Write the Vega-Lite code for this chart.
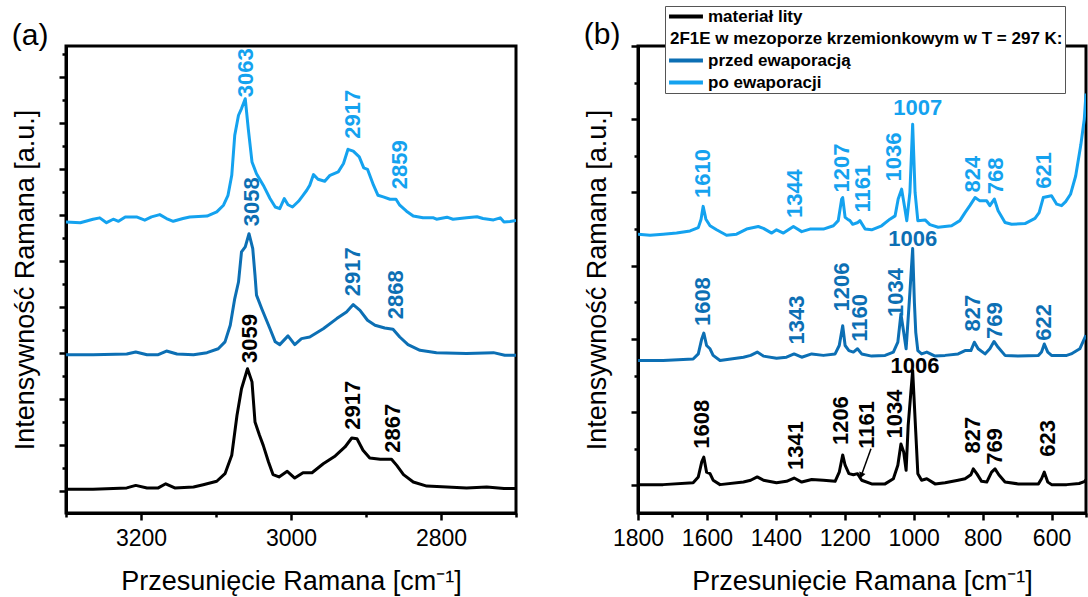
{
  "$schema": "https://vega.github.io/schema/vega-lite/v6.json",
  "background": "white",
  "padding": {"left": 10, "top": 4, "right": 0, "bottom": 0},
  "bounds": "flush",
  "spacing": 122,
  "resolve": {"scale": {"color": "independent", "fill": "independent"}, "legend": {"color": "independent", "fill": "independent"}},
  "config": {
    "font": "Liberation Sans",
    "view": {"stroke": "black", "strokeWidth": 3},
    "axis": {"domainColor": "black", "domainWidth": 3, "tickColor": "black", "tickWidth": 2.5, "labelFont": "Liberation Sans", "labelFontSize": 23, "labelColor": "black", "labelPadding": 7, "labelOverlap": false, "labelFlush": false, "titleFont": "Liberation Sans", "titleFontSize": 27, "titleFontWeight": "normal", "titleColor": "black", "grid": false},
    "axisX": {"titlePadding": 18},
    "axisY": {"titlePadding": 18},
    "title": {"font": "Liberation Sans", "fontSize": 30, "fontWeight": "normal", "color": "black", "anchor": "start"}
  },
  "datasets": {
    "a": [
      {"s": "po ewaporacji", "x": 3300, "y": 11.68}, {"s": "po ewaporacji", "x": 3281, "y": 11.65}, {"s": "po ewaporacji", "x": 3264, "y": 11.8}, {"s": "po ewaporacji", "x": 3255, "y": 11.86}, {"s": "po ewaporacji", "x": 3246, "y": 11.65}, {"s": "po ewaporacji", "x": 3237, "y": 11.8}, {"s": "po ewaporacji", "x": 3230, "y": 11.71}, {"s": "po ewaporacji", "x": 3221, "y": 11.9}, {"s": "po ewaporacji", "x": 3206, "y": 11.9}, {"s": "po ewaporacji", "x": 3195, "y": 11.76}, {"s": "po ewaporacji", "x": 3186, "y": 11.9}, {"s": "po ewaporacji", "x": 3175, "y": 12.0}, {"s": "po ewaporacji", "x": 3166, "y": 11.83}, {"s": "po ewaporacji", "x": 3157, "y": 11.71}, {"s": "po ewaporacji", "x": 3144, "y": 11.83}, {"s": "po ewaporacji", "x": 3135, "y": 11.9}, {"s": "po ewaporacji", "x": 3112, "y": 11.94}, {"s": "po ewaporacji", "x": 3099, "y": 12.12}, {"s": "po ewaporacji", "x": 3090, "y": 12.41}, {"s": "po ewaporacji", "x": 3084, "y": 12.84}, {"s": "po ewaporacji", "x": 3079, "y": 13.71}, {"s": "po ewaporacji", "x": 3075, "y": 15.45}, {"s": "po ewaporacji", "x": 3070, "y": 16.32}, {"s": "po ewaporacji", "x": 3066, "y": 16.61}, {"s": "po ewaporacji", "x": 3061, "y": 17.04}, {"s": "po ewaporacji", "x": 3057, "y": 15.74}, {"s": "po ewaporacji", "x": 3052, "y": 14.29}, {"s": "po ewaporacji", "x": 3046, "y": 13.78}, {"s": "po ewaporacji", "x": 3037, "y": 13.28}, {"s": "po ewaporacji", "x": 3028, "y": 12.7}, {"s": "po ewaporacji", "x": 3021, "y": 12.33}, {"s": "po ewaporacji", "x": 3015, "y": 12.26}, {"s": "po ewaporacji", "x": 3009, "y": 12.7}, {"s": "po ewaporacji", "x": 3004, "y": 12.43}, {"s": "po ewaporacji", "x": 2998, "y": 12.33}, {"s": "po ewaporacji", "x": 2990, "y": 12.58}, {"s": "po ewaporacji", "x": 2984, "y": 12.84}, {"s": "po ewaporacji", "x": 2979, "y": 13.06}, {"s": "po ewaporacji", "x": 2975, "y": 13.28}, {"s": "po ewaporacji", "x": 2970, "y": 13.74}, {"s": "po ewaporacji", "x": 2964, "y": 13.54}, {"s": "po ewaporacji", "x": 2955, "y": 13.45}, {"s": "po ewaporacji", "x": 2948, "y": 13.71}, {"s": "po ewaporacji", "x": 2937, "y": 13.86}, {"s": "po ewaporacji", "x": 2930, "y": 14.22}, {"s": "po ewaporacji", "x": 2924, "y": 14.84}, {"s": "po ewaporacji", "x": 2917, "y": 14.76}, {"s": "po ewaporacji", "x": 2909, "y": 14.51}, {"s": "po ewaporacji", "x": 2903, "y": 14.03}, {"s": "po ewaporacji", "x": 2898, "y": 13.97}, {"s": "po ewaporacji", "x": 2890, "y": 13.28}, {"s": "po ewaporacji", "x": 2884, "y": 12.84}, {"s": "po ewaporacji", "x": 2877, "y": 12.77}, {"s": "po ewaporacji", "x": 2868, "y": 12.67}, {"s": "po ewaporacji", "x": 2860, "y": 12.67}, {"s": "po ewaporacji", "x": 2855, "y": 12.41}, {"s": "po ewaporacji", "x": 2846, "y": 12.15}, {"s": "po ewaporacji", "x": 2837, "y": 11.94}, {"s": "po ewaporacji", "x": 2824, "y": 11.86}, {"s": "po ewaporacji", "x": 2810, "y": 11.86}, {"s": "po ewaporacji", "x": 2806, "y": 11.8}, {"s": "po ewaporacji", "x": 2792, "y": 11.89}, {"s": "po ewaporacji", "x": 2784, "y": 11.8}, {"s": "po ewaporacji", "x": 2766, "y": 11.86}, {"s": "po ewaporacji", "x": 2752, "y": 11.91}, {"s": "po ewaporacji", "x": 2744, "y": 11.83}, {"s": "po ewaporacji", "x": 2730, "y": 11.77}, {"s": "po ewaporacji", "x": 2721, "y": 11.86}, {"s": "po ewaporacji", "x": 2716, "y": 11.68}, {"s": "po ewaporacji", "x": 2708, "y": 11.7}, {"s": "po ewaporacji", "x": 2700, "y": 11.75},
      {"s": "przed ewaporacją", "x": 3300, "y": 5.91}, {"s": "przed ewaporacją", "x": 3264, "y": 5.91}, {"s": "przed ewaporacją", "x": 3219, "y": 5.94}, {"s": "przed ewaporacją", "x": 3207, "y": 6.03}, {"s": "przed ewaporacją", "x": 3192, "y": 5.91}, {"s": "przed ewaporacją", "x": 3177, "y": 5.91}, {"s": "przed ewaporacją", "x": 3166, "y": 6.07}, {"s": "przed ewaporacją", "x": 3152, "y": 5.94}, {"s": "przed ewaporacją", "x": 3130, "y": 5.91}, {"s": "przed ewaporacją", "x": 3112, "y": 6.0}, {"s": "przed ewaporacją", "x": 3097, "y": 6.17}, {"s": "przed ewaporacją", "x": 3088, "y": 6.47}, {"s": "przed ewaporacją", "x": 3081, "y": 7.19}, {"s": "przed ewaporacją", "x": 3075, "y": 8.35}, {"s": "przed ewaporacją", "x": 3070, "y": 9.07}, {"s": "przed ewaporacją", "x": 3066, "y": 10.38}, {"s": "przed ewaporacją", "x": 3061, "y": 10.6}, {"s": "przed ewaporacją", "x": 3056, "y": 11.17}, {"s": "przed ewaporacją", "x": 3051, "y": 10.52}, {"s": "przed ewaporacją", "x": 3048, "y": 9.37}, {"s": "przed ewaporacją", "x": 3046, "y": 8.5}, {"s": "przed ewaporacją", "x": 3039, "y": 7.91}, {"s": "przed ewaporacją", "x": 3028, "y": 7.04}, {"s": "przed ewaporacją", "x": 3021, "y": 6.47}, {"s": "przed ewaporacją", "x": 3015, "y": 6.35}, {"s": "przed ewaporacją", "x": 3004, "y": 6.73}, {"s": "przed ewaporacją", "x": 2995, "y": 6.35}, {"s": "przed ewaporacją", "x": 2986, "y": 6.61}, {"s": "przed ewaporacją", "x": 2975, "y": 6.68}, {"s": "przed ewaporacją", "x": 2957, "y": 7.04}, {"s": "przed ewaporacją", "x": 2939, "y": 7.48}, {"s": "przed ewaporacją", "x": 2926, "y": 7.77}, {"s": "przed ewaporacją", "x": 2917, "y": 8.09}, {"s": "przed ewaporacją", "x": 2908, "y": 7.84}, {"s": "przed ewaporacją", "x": 2898, "y": 7.41}, {"s": "przed ewaporacją", "x": 2888, "y": 7.19}, {"s": "przed ewaporacją", "x": 2875, "y": 7.07}, {"s": "przed ewaporacją", "x": 2864, "y": 7.02}, {"s": "przed ewaporacją", "x": 2855, "y": 6.68}, {"s": "przed ewaporacją", "x": 2844, "y": 6.35}, {"s": "przed ewaporacją", "x": 2828, "y": 6.1}, {"s": "przed ewaporacją", "x": 2806, "y": 6.0}, {"s": "przed ewaporacją", "x": 2766, "y": 5.96}, {"s": "przed ewaporacją", "x": 2730, "y": 6.0}, {"s": "przed ewaporacją", "x": 2715, "y": 5.89}, {"s": "przed ewaporacją", "x": 2700, "y": 5.89},
      {"s": "materiał lity", "x": 3300, "y": 0.06}, {"s": "materiał lity", "x": 3264, "y": 0.06}, {"s": "materiał lity", "x": 3219, "y": 0.12}, {"s": "materiał lity", "x": 3207, "y": 0.23}, {"s": "materiał lity", "x": 3192, "y": 0.12}, {"s": "materiał lity", "x": 3177, "y": 0.12}, {"s": "materiał lity", "x": 3167, "y": 0.3}, {"s": "materiał lity", "x": 3155, "y": 0.12}, {"s": "materiał lity", "x": 3130, "y": 0.16}, {"s": "materiał lity", "x": 3117, "y": 0.26}, {"s": "materiał lity", "x": 3099, "y": 0.41}, {"s": "materiał lity", "x": 3088, "y": 0.74}, {"s": "materiał lity", "x": 3079, "y": 1.54}, {"s": "materiał lity", "x": 3072, "y": 3.28}, {"s": "materiał lity", "x": 3066, "y": 4.43}, {"s": "materiał lity", "x": 3058, "y": 5.3}, {"s": "materiał lity", "x": 3052, "y": 4.73}, {"s": "materiał lity", "x": 3048, "y": 2.99}, {"s": "materiał lity", "x": 3042, "y": 2.41}, {"s": "materiał lity", "x": 3037, "y": 1.97}, {"s": "materiał lity", "x": 3030, "y": 1.25}, {"s": "materiał lity", "x": 3024, "y": 0.7}, {"s": "materiał lity", "x": 3016, "y": 0.6}, {"s": "materiał lity", "x": 3005, "y": 0.84}, {"s": "materiał lity", "x": 2995, "y": 0.55}, {"s": "materiał lity", "x": 2984, "y": 0.78}, {"s": "materiał lity", "x": 2972, "y": 0.78}, {"s": "materiał lity", "x": 2957, "y": 1.17}, {"s": "materiał lity", "x": 2941, "y": 1.51}, {"s": "materiał lity", "x": 2928, "y": 1.9}, {"s": "materiał lity", "x": 2919, "y": 2.29}, {"s": "materiał lity", "x": 2912, "y": 2.26}, {"s": "materiał lity", "x": 2904, "y": 1.76}, {"s": "materiał lity", "x": 2895, "y": 1.42}, {"s": "materiał lity", "x": 2881, "y": 1.37}, {"s": "materiał lity", "x": 2866, "y": 1.37}, {"s": "materiał lity", "x": 2859, "y": 1.1}, {"s": "materiał lity", "x": 2850, "y": 0.7}, {"s": "materiał lity", "x": 2837, "y": 0.38}, {"s": "materiał lity", "x": 2819, "y": 0.2}, {"s": "materiał lity", "x": 2792, "y": 0.16}, {"s": "materiał lity", "x": 2766, "y": 0.12}, {"s": "materiał lity", "x": 2739, "y": 0.16}, {"s": "materiał lity", "x": 2716, "y": 0.09}, {"s": "materiał lity", "x": 2700, "y": 0.09}
    ],
    "b": [
      {"s": "po ewaporacji", "x": 1800, "y": 6.86}, {"s": "po ewaporacji", "x": 1765, "y": 6.83}, {"s": "po ewaporacji", "x": 1727, "y": 6.86}, {"s": "po ewaporacji", "x": 1688, "y": 6.89}, {"s": "po ewaporacji", "x": 1649, "y": 6.95}, {"s": "po ewaporacji", "x": 1625, "y": 7.04}, {"s": "po ewaporacji", "x": 1617, "y": 7.27}, {"s": "po ewaporacji", "x": 1611, "y": 7.62}, {"s": "po ewaporacji", "x": 1603, "y": 7.27}, {"s": "po ewaporacji", "x": 1591, "y": 7.09}, {"s": "po ewaporacji", "x": 1572, "y": 6.98}, {"s": "po ewaporacji", "x": 1543, "y": 6.83}, {"s": "po ewaporacji", "x": 1514, "y": 6.86}, {"s": "po ewaporacji", "x": 1485, "y": 7.0}, {"s": "po ewaporacji", "x": 1451, "y": 7.07}, {"s": "po ewaporacji", "x": 1436, "y": 7.02}, {"s": "po ewaporacji", "x": 1412, "y": 6.89}, {"s": "po ewaporacji", "x": 1398, "y": 6.98}, {"s": "po ewaporacji", "x": 1378, "y": 6.89}, {"s": "po ewaporacji", "x": 1349, "y": 7.07}, {"s": "po ewaporacji", "x": 1325, "y": 6.93}, {"s": "po ewaporacji", "x": 1301, "y": 7.0}, {"s": "po ewaporacji", "x": 1262, "y": 7.0}, {"s": "po ewaporacji", "x": 1233, "y": 7.09}, {"s": "po ewaporacji", "x": 1219, "y": 7.23}, {"s": "po ewaporacji", "x": 1209, "y": 7.82}, {"s": "po ewaporacji", "x": 1206, "y": 7.86}, {"s": "po ewaporacji", "x": 1199, "y": 7.32}, {"s": "po ewaporacji", "x": 1192, "y": 7.27}, {"s": "po ewaporacji", "x": 1185, "y": 7.23}, {"s": "po ewaporacji", "x": 1177, "y": 7.13}, {"s": "po ewaporacji", "x": 1162, "y": 7.18}, {"s": "po ewaporacji", "x": 1156, "y": 7.23}, {"s": "po ewaporacji", "x": 1141, "y": 7.0}, {"s": "po ewaporacji", "x": 1122, "y": 6.98}, {"s": "po ewaporacji", "x": 1093, "y": 7.09}, {"s": "po ewaporacji", "x": 1069, "y": 7.27}, {"s": "po ewaporacji", "x": 1054, "y": 7.36}, {"s": "po ewaporacji", "x": 1045, "y": 7.82}, {"s": "po ewaporacji", "x": 1035, "y": 8.09}, {"s": "po ewaporacji", "x": 1027, "y": 7.64}, {"s": "po ewaporacji", "x": 1020, "y": 7.23}, {"s": "po ewaporacji", "x": 1011, "y": 8.0}, {"s": "po ewaporacji", "x": 1003, "y": 9.86}, {"s": "po ewaporacji", "x": 996, "y": 8.0}, {"s": "po ewaporacji", "x": 988, "y": 7.23}, {"s": "po ewaporacji", "x": 967, "y": 7.25}, {"s": "po ewaporacji", "x": 953, "y": 7.12}, {"s": "po ewaporacji", "x": 929, "y": 7.05}, {"s": "po ewaporacji", "x": 890, "y": 7.09}, {"s": "po ewaporacji", "x": 866, "y": 7.23}, {"s": "po ewaporacji", "x": 851, "y": 7.45}, {"s": "po ewaporacji", "x": 837, "y": 7.64}, {"s": "po ewaporacji", "x": 822, "y": 7.86}, {"s": "po ewaporacji", "x": 808, "y": 7.77}, {"s": "po ewaporacji", "x": 788, "y": 7.77}, {"s": "po ewaporacji", "x": 779, "y": 7.64}, {"s": "po ewaporacji", "x": 766, "y": 7.82}, {"s": "po ewaporacji", "x": 755, "y": 7.5}, {"s": "po ewaporacji", "x": 735, "y": 7.18}, {"s": "po ewaporacji", "x": 716, "y": 7.13}, {"s": "po ewaporacji", "x": 677, "y": 7.15}, {"s": "po ewaporacji", "x": 648, "y": 7.29}, {"s": "po ewaporacji", "x": 636, "y": 7.45}, {"s": "po ewaporacji", "x": 624, "y": 7.86}, {"s": "po ewaporacji", "x": 611, "y": 7.89}, {"s": "po ewaporacji", "x": 600, "y": 7.91}, {"s": "po ewaporacji", "x": 585, "y": 7.68}, {"s": "po ewaporacji", "x": 571, "y": 7.64}, {"s": "po ewaporacji", "x": 559, "y": 7.75}, {"s": "po ewaporacji", "x": 545, "y": 7.95}, {"s": "po ewaporacji", "x": 530, "y": 8.45}, {"s": "po ewaporacji", "x": 515, "y": 9.3}, {"s": "po ewaporacji", "x": 505, "y": 10.0}, {"s": "po ewaporacji", "x": 500, "y": 10.7},
      {"s": "przed ewaporacją", "x": 1800, "y": 3.41}, {"s": "przed ewaporacją", "x": 1727, "y": 3.41}, {"s": "przed ewaporacją", "x": 1640, "y": 3.45}, {"s": "przed ewaporacją", "x": 1625, "y": 3.59}, {"s": "przed ewaporacją", "x": 1615, "y": 4.0}, {"s": "przed ewaporacją", "x": 1609, "y": 4.16}, {"s": "przed ewaporacją", "x": 1601, "y": 3.82}, {"s": "przed ewaporacją", "x": 1591, "y": 3.73}, {"s": "przed ewaporacją", "x": 1582, "y": 3.55}, {"s": "przed ewaporacją", "x": 1562, "y": 3.41}, {"s": "przed ewaporacją", "x": 1494, "y": 3.5}, {"s": "przed ewaporacją", "x": 1473, "y": 3.55}, {"s": "przed ewaporacją", "x": 1454, "y": 3.64}, {"s": "przed ewaporacją", "x": 1436, "y": 3.53}, {"s": "przed ewaporacją", "x": 1398, "y": 3.47}, {"s": "przed ewaporacją", "x": 1369, "y": 3.5}, {"s": "przed ewaporacją", "x": 1347, "y": 3.59}, {"s": "przed ewaporacją", "x": 1325, "y": 3.5}, {"s": "przed ewaporacją", "x": 1296, "y": 3.59}, {"s": "przed ewaporacją", "x": 1262, "y": 3.55}, {"s": "przed ewaporacją", "x": 1228, "y": 3.59}, {"s": "przed ewaporacją", "x": 1216, "y": 3.82}, {"s": "przed ewaporacją", "x": 1206, "y": 4.36}, {"s": "przed ewaporacją", "x": 1199, "y": 3.82}, {"s": "przed ewaporacją", "x": 1188, "y": 3.68}, {"s": "przed ewaporacją", "x": 1175, "y": 3.64}, {"s": "przed ewaporacją", "x": 1163, "y": 3.73}, {"s": "przed ewaporacją", "x": 1151, "y": 3.59}, {"s": "przed ewaporacją", "x": 1122, "y": 3.53}, {"s": "przed ewaporacją", "x": 1083, "y": 3.55}, {"s": "przed ewaporacją", "x": 1059, "y": 3.64}, {"s": "przed ewaporacją", "x": 1046, "y": 3.91}, {"s": "przed ewaporacją", "x": 1037, "y": 4.68}, {"s": "przed ewaporacją", "x": 1029, "y": 4.18}, {"s": "przed ewaporacją", "x": 1022, "y": 3.73}, {"s": "przed ewaporacją", "x": 1011, "y": 5.27}, {"s": "przed ewaporacją", "x": 1003, "y": 6.47}, {"s": "przed ewaporacją", "x": 998, "y": 5.0}, {"s": "przed ewaporacją", "x": 994, "y": 4.18}, {"s": "przed ewaporacją", "x": 988, "y": 3.68}, {"s": "przed ewaporacją", "x": 977, "y": 3.59}, {"s": "przed ewaporacją", "x": 962, "y": 3.64}, {"s": "przed ewaporacją", "x": 938, "y": 3.53}, {"s": "przed ewaporacją", "x": 909, "y": 3.55}, {"s": "przed ewaporacją", "x": 871, "y": 3.59}, {"s": "przed ewaporacją", "x": 851, "y": 3.68}, {"s": "przed ewaporacją", "x": 834, "y": 3.68}, {"s": "przed ewaporacją", "x": 824, "y": 3.91}, {"s": "przed ewaporacją", "x": 813, "y": 3.73}, {"s": "przed ewaporacją", "x": 793, "y": 3.59}, {"s": "przed ewaporacją", "x": 779, "y": 3.73}, {"s": "przed ewaporacją", "x": 767, "y": 3.93}, {"s": "przed ewaporacją", "x": 755, "y": 3.77}, {"s": "przed ewaporacją", "x": 735, "y": 3.55}, {"s": "przed ewaporacją", "x": 697, "y": 3.53}, {"s": "przed ewaporacją", "x": 638, "y": 3.55}, {"s": "przed ewaporacją", "x": 629, "y": 3.64}, {"s": "przed ewaporacją", "x": 621, "y": 3.86}, {"s": "przed ewaporacją", "x": 611, "y": 3.64}, {"s": "przed ewaporacją", "x": 600, "y": 3.55}, {"s": "przed ewaporacją", "x": 556, "y": 3.55}, {"s": "przed ewaporacją", "x": 543, "y": 3.59}, {"s": "przed ewaporacją", "x": 518, "y": 3.73}, {"s": "przed ewaporacją", "x": 500, "y": 4.1},
      {"s": "materiał lity", "x": 1800, "y": 0.02}, {"s": "materiał lity", "x": 1727, "y": 0.02}, {"s": "materiał lity", "x": 1640, "y": 0.07}, {"s": "materiał lity", "x": 1625, "y": 0.23}, {"s": "materiał lity", "x": 1615, "y": 0.64}, {"s": "materiał lity", "x": 1609, "y": 0.77}, {"s": "materiał lity", "x": 1601, "y": 0.36}, {"s": "materiał lity", "x": 1591, "y": 0.32}, {"s": "materiał lity", "x": 1582, "y": 0.14}, {"s": "materiał lity", "x": 1562, "y": 0.02}, {"s": "materiał lity", "x": 1494, "y": 0.09}, {"s": "materiał lity", "x": 1473, "y": 0.14}, {"s": "materiał lity", "x": 1454, "y": 0.23}, {"s": "materiał lity", "x": 1436, "y": 0.14}, {"s": "materiał lity", "x": 1398, "y": 0.07}, {"s": "materiał lity", "x": 1369, "y": 0.11}, {"s": "materiał lity", "x": 1347, "y": 0.2}, {"s": "materiał lity", "x": 1325, "y": 0.09}, {"s": "materiał lity", "x": 1296, "y": 0.16}, {"s": "materiał lity", "x": 1262, "y": 0.14}, {"s": "materiał lity", "x": 1228, "y": 0.11}, {"s": "materiał lity", "x": 1216, "y": 0.36}, {"s": "materiał lity", "x": 1206, "y": 0.83}, {"s": "materiał lity", "x": 1199, "y": 0.55}, {"s": "materiał lity", "x": 1188, "y": 0.32}, {"s": "materiał lity", "x": 1175, "y": 0.29}, {"s": "materiał lity", "x": 1163, "y": 0.32}, {"s": "materiał lity", "x": 1151, "y": 0.14}, {"s": "materiał lity", "x": 1122, "y": 0.04}, {"s": "materiał lity", "x": 1083, "y": 0.04}, {"s": "materiał lity", "x": 1059, "y": 0.18}, {"s": "materiał lity", "x": 1046, "y": 0.55}, {"s": "materiał lity", "x": 1037, "y": 1.13}, {"s": "materiał lity", "x": 1029, "y": 0.91}, {"s": "materiał lity", "x": 1022, "y": 0.41}, {"s": "materiał lity", "x": 1016, "y": 1.64}, {"s": "materiał lity", "x": 1003, "y": 3.14}, {"s": "materiał lity", "x": 994, "y": 1.45}, {"s": "materiał lity", "x": 988, "y": 0.32}, {"s": "materiał lity", "x": 977, "y": 0.14}, {"s": "materiał lity", "x": 962, "y": 0.18}, {"s": "materiał lity", "x": 938, "y": 0.04}, {"s": "materiał lity", "x": 909, "y": 0.07}, {"s": "materiał lity", "x": 871, "y": 0.14}, {"s": "materiał lity", "x": 851, "y": 0.18}, {"s": "materiał lity", "x": 834, "y": 0.29}, {"s": "materiał lity", "x": 827, "y": 0.45}, {"s": "materiał lity", "x": 817, "y": 0.32}, {"s": "materiał lity", "x": 803, "y": 0.11}, {"s": "materiał lity", "x": 788, "y": 0.09}, {"s": "materiał lity", "x": 774, "y": 0.36}, {"s": "materiał lity", "x": 764, "y": 0.45}, {"s": "materiał lity", "x": 753, "y": 0.29}, {"s": "materiał lity", "x": 735, "y": 0.09}, {"s": "materiał lity", "x": 697, "y": 0.04}, {"s": "materiał lity", "x": 638, "y": 0.04}, {"s": "materiał lity", "x": 629, "y": 0.18}, {"s": "materiał lity", "x": 621, "y": 0.36}, {"s": "materiał lity", "x": 611, "y": 0.09}, {"s": "materiał lity", "x": 600, "y": 0.02}, {"s": "materiał lity", "x": 556, "y": 0.02}, {"s": "materiał lity", "x": 520, "y": 0.05}, {"s": "materiał lity", "x": 505, "y": 0.1}, {"s": "materiał lity", "x": 500, "y": 0.15}
    ],
    "labA": [
      {"s": "po ewaporacji", "x": 3060, "y": 17.1, "t": "3063"}, {"s": "po ewaporacji", "x": 2918, "y": 15.3, "t": "2917"}, {"s": "po ewaporacji", "x": 2855, "y": 13.1, "t": "2859"},
      {"s": "przed ewaporacją", "x": 3052, "y": 11.5, "t": "3058"}, {"s": "przed ewaporacją", "x": 2917, "y": 8.45, "t": "2917"}, {"s": "przed ewaporacją", "x": 2860, "y": 7.45, "t": "2868"},
      {"s": "materiał lity", "x": 3055, "y": 5.55, "t": "3059"}, {"s": "materiał lity", "x": 2917, "y": 2.65, "t": "2917"}, {"s": "materiał lity", "x": 2864, "y": 1.65, "t": "2867"}
    ],
    "labB": [
      {"s": "po ewaporacji", "x": 1612, "y": 7.85, "t": "1610"}, {"s": "po ewaporacji", "x": 1344, "y": 7.3, "t": "1344"}, {"s": "po ewaporacji", "x": 1207, "y": 8.0, "t": "1207"}, {"s": "po ewaporacji", "x": 1146, "y": 7.45, "t": "1161"}, {"s": "po ewaporacji", "x": 1056, "y": 8.3, "t": "1036"}, {"s": "po ewaporacji", "x": 827, "y": 8.0, "t": "824"}, {"s": "po ewaporacji", "x": 762, "y": 7.95, "t": "768"}, {"s": "po ewaporacji", "x": 621, "y": 8.1, "t": "621"},
      {"s": "przed ewaporacją", "x": 1611, "y": 4.35, "t": "1608"}, {"s": "przed ewaporacją", "x": 1340, "y": 3.85, "t": "1343"}, {"s": "przed ewaporacją", "x": 1207, "y": 4.75, "t": "1206"}, {"s": "przed ewaporacją", "x": 1156, "y": 3.92, "t": "1160"}, {"s": "przed ewaporacją", "x": 1050, "y": 4.6, "t": "1034"}, {"s": "przed ewaporacją", "x": 827, "y": 4.2, "t": "827"}, {"s": "przed ewaporacją", "x": 764, "y": 4.0, "t": "769"}, {"s": "przed ewaporacją", "x": 621, "y": 3.95, "t": "622"},
      {"s": "materiał lity", "x": 1615, "y": 1.0, "t": "1608"}, {"s": "materiał lity", "x": 1342, "y": 0.42, "t": "1341"}, {"s": "materiał lity", "x": 1210, "y": 1.1, "t": "1206"}, {"s": "materiał lity", "x": 1136, "y": 1.0, "t": "1161"}, {"s": "materiał lity", "x": 1054, "y": 1.28, "t": "1034"}, {"s": "materiał lity", "x": 827, "y": 0.87, "t": "827"}, {"s": "materiał lity", "x": 764, "y": 0.56, "t": "769"}, {"s": "materiał lity", "x": 611, "y": 0.78, "t": "623"}
    ],
    "labBh": [
      {"s": "po ewaporacji", "x": 988, "y": 10.32, "t": "1007"},
      {"s": "przed ewaporacją", "x": 1003, "y": 6.74, "t": "1006"},
      {"s": "materiał lity", "x": 996, "y": 3.25, "t": "1006"}
    ],
    "arrowLine": [
      {"x": 1124, "y": 1.0, "x2": 1152, "y2": 0.27}
    ],
    "arrowHead": [
      {"x": 1152, "y": 0.27}
    ]
  },
  "hconcat": [
    {
      "width": 450,
      "height": 467,
      "title": {"text": "(a)", "offset": -5},
      "encoding": {
        "x": {"field": "x", "type": "quantitative", "scale": {"domain": [2700, 3300], "reverse": true, "nice": false, "zero": false},
          "axis": {"values": [2700, 2800, 2900, 3000, 3100, 3200, 3300], "labelExpr": "datum.value % 200 == 0 ? format(datum.value, 'd') : ''", "labelOverlap": false, "labelFlush": false, "tickSize": {"condition": {"test": "datum.value % 200 == 0", "value": 7}, "value": 4}, "title": "Przesunięcie Ramana [cm⁻¹]"}},
        "y": {"field": "y", "type": "quantitative", "scale": {"domain": [-0.97, 19.33], "nice": false, "zero": false},
          "axis": {"values": [0, 1, 2, 3, 4, 5, 6, 7, 8, 9, 10, 11, 12, 13, 14, 15, 16, 17, 18, 19], "labels": false, "tickSize": {"condition": {"test": "datum.value % 2 == 0", "value": 7}, "value": 4}, "title": "Intensywność Ramana [a.u.]"}}
      },
      "layer": [
        {
          "data": {"name": "a"},
          "mark": {"type": "line", "strokeWidth": 3, "strokeJoin": "round", "clip": true},
          "encoding": {
            "color": {"field": "s", "type": "nominal", "scale": {"domain": ["materiał lity", "2F1E w mezoporze krzemionkowym w T = 297 K:", "przed ewaporacją", "po ewaporacji"], "range": ["#000000", "rgba(0,0,0,0)", "#0c6fb4", "#14a2ef"]}, "legend": null}
          }
        },
        {
          "data": {"name": "labA"},
          "mark": {"type": "text", "angle": 270, "align": "left", "baseline": "middle", "fontWeight": "bold", "fontSize": 22, "font": "Liberation Sans"},
          "encoding": {
            "text": {"field": "t"},
            "fill": {"field": "s", "type": "nominal", "scale": {"domain": ["materiał lity", "przed ewaporacją", "po ewaporacji"], "range": ["#000000", "#0c6fb4", "#14a2ef"]}, "legend": null}
          }
        }
      ]
    },
    {
      "width": 448,
      "height": 467,
      "title": {"text": "(b)", "offset": -44},
      "encoding": {
        "x": {"field": "x", "type": "quantitative", "scale": {"domain": [500, 1800], "reverse": true, "nice": false, "zero": false},
          "axis": {"values": [500, 600, 700, 800, 900, 1000, 1100, 1200, 1300, 1400, 1500, 1600, 1700, 1800], "labelExpr": "datum.value % 200 == 0 ? format(datum.value, 'd') : ''", "labelOverlap": false, "labelFlush": false, "tickSize": {"condition": {"test": "datum.value % 200 == 0", "value": 7}, "value": 4}, "title": "Przesunięcie Ramana [cm⁻¹]"}},
        "y": {"field": "y", "type": "quantitative", "scale": {"domain": [-0.755, 12], "nice": false, "zero": false},
          "axis": {"values": [0, 1, 2, 3, 4, 5, 6, 7, 8, 9, 10, 11, 12], "labels": false, "tickSize": {"condition": {"test": "datum.value % 2 == 0", "value": 7}, "value": 4}, "title": "Intensywność Ramana [a.u.]"}}
      },
      "layer": [
        {
          "data": {"name": "b"},
          "mark": {"type": "line", "strokeWidth": 3, "strokeJoin": "round", "clip": true},
          "encoding": {
            "color": {"field": "s", "type": "nominal", "scale": {"domain": ["materiał lity", "2F1E w mezoporze krzemionkowym w T = 297 K:", "przed ewaporacją", "po ewaporacji"], "range": ["#000000", "rgba(0,0,0,0)", "#0c6fb4", "#14a2ef"]},
              "legend": {"orient": "none", "legendX": 27, "legendY": -40, "title": null, "symbolType": "stroke", "symbolStrokeWidth": 4, "symbolSize": 1150, "symbolOffset": 0, "labelFontSize": 17, "labelFontWeight": "bold", "labelFont": "Liberation Sans", "labelColor": "black", "labelLimit": 600, "labelOffset": 3, "strokeColor": "#555555", "fillColor": "white", "padding": 2, "rowPadding": 4, "clipHeight": 17,
                "encoding": {"labels": {"dx": {"condition": {"test": "indexof(datum.label, '2F1E') >= 0", "value": -38}, "value": 0}}}}}
          }
        },
        {
          "data": {"name": "labB"},
          "mark": {"type": "text", "angle": 270, "align": "left", "baseline": "middle", "fontWeight": "bold", "fontSize": 22, "font": "Liberation Sans"},
          "encoding": {
            "text": {"field": "t"},
            "fill": {"field": "s", "type": "nominal", "scale": {"domain": ["materiał lity", "przed ewaporacją", "po ewaporacji"], "range": ["#000000", "#0c6fb4", "#14a2ef"]}, "legend": null}
          }
        },
        {
          "data": {"name": "labBh"},
          "mark": {"type": "text", "align": "center", "baseline": "middle", "fontWeight": "bold", "fontSize": 22, "font": "Liberation Sans"},
          "encoding": {
            "text": {"field": "t"},
            "fill": {"field": "s", "type": "nominal", "legend": null}
          }
        },
        {
          "data": {"name": "arrowLine"},
          "mark": {"type": "rule", "color": "black", "strokeWidth": 1.5},
          "encoding": {
            "x2": {"field": "x2"},
            "y2": {"field": "y2"}
          }
        },
        {
          "data": {"name": "arrowHead"},
          "mark": {"type": "point", "shape": "triangle-down", "filled": true, "color": "black", "size": 45, "angle": 20, "opacity": 1},
          "encoding": {}
        }
      ]
    }
  ]
}
